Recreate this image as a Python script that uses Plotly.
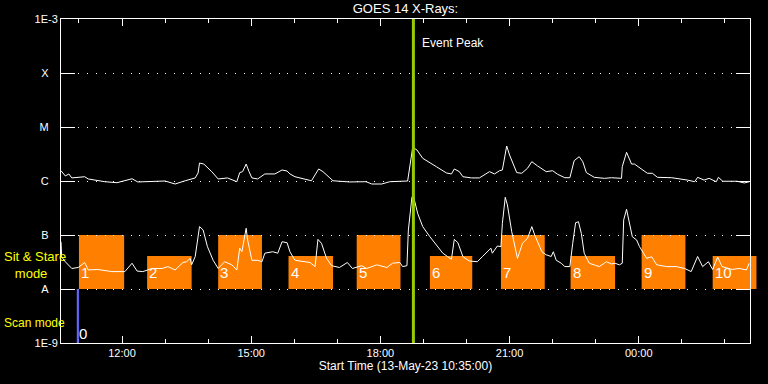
import plotly.graph_objects as go
from datetime import datetime
import math

START = "2023-05-13 10:35"
END = "2023-05-14 02:35"

# GOES long channel (upper curve)
long_times = ["10:35","10:41","10:46","10:50","11:08","11:13","11:36","11:53","12:14","12:22",
    "13:00","13:14","13:28","13:42","13:46","13:48","13:54","14:05","14:14","14:27",
    "14:40","14:44","14:48","14:53","14:57","15:01","15:09","15:19","15:33","15:43",
    "15:50","15:54","16:01","16:08","16:24","16:34","16:40","16:54","17:17","17:40",
    "17:48","18:02","18:13","18:38","18:42","18:45","18:51","18:59","19:18","19:32",
    "19:39","19:43","19:50","19:55","20:07","20:18","20:32","20:39","20:46","20:50",
    "20:56","21:00","21:10","21:17","21:25","21:31","21:39","21:51","22:00","22:07",
    "22:17","22:24","22:30","22:37","22:42","22:47","22:58","23:12","23:22","23:36",
    "23:37","23:43","23:50","23:54","00:12","00:19","00:26","00:46","01:08","01:18",
    "01:22","01:31","01:38","01:48","01:51","01:57","02:17","02:27","02:34"]
long_flux = [1.55e-6,1.24e-6,1.35e-6,1.14e-6,1.20e-6,1.09e-6,9.7e-7,9.3e-7,1.10e-6,9.6e-7,
    1.0e-6,8.8e-7,1.01e-6,1.14e-6,1.41e-6,2.15e-6,2.06e-6,1.49e-6,1.09e-6,1.14e-6,
    9.7e-7,1.43e-6,1.49e-6,2.06e-6,1.49e-6,1.14e-6,1.09e-6,1.35e-6,1.35e-6,1.60e-6,
    1.53e-6,1.35e-6,1.20e-6,1.14e-6,1.01e-6,1.67e-6,1.49e-6,1.01e-6,9.6e-7,9.7e-7,
    8.8e-7,8.8e-7,9.7e-7,1.0e-6,2.45e-6,4.21e-6,3.75e-6,2.63e-6,1.84e-6,1.41e-6,
    1.35e-6,1.67e-6,1.49e-6,1.20e-6,1.14e-6,1.14e-6,1.49e-6,1.35e-6,1.55e-6,1.60e-6,
    4.45e-6,3.03e-6,1.43e-6,1.39e-6,1.72e-6,2.28e-6,1.90e-6,1.49e-6,1.55e-6,1.33e-6,
    1.15e-6,1.15e-6,2.38e-6,2.82e-6,2.28e-6,1.43e-6,1.17e-6,1.12e-6,1.15e-6,1.12e-6,
    1.84e-6,3.40e-6,2.06e-6,2.06e-6,1.39e-6,1.39e-6,1.17e-6,1.15e-6,1.04e-6,9.7e-7,
    1.17e-6,1.04e-6,1.12e-6,9.7e-7,1.17e-6,9.9e-7,9.9e-7,9.2e-7,9.7e-7]

# GOES short channel (lower curve)
short_times = ["10:35","10:36","10:41","10:50","10:59","11:08","11:13","11:26","11:46","12:00",
    "12:04","12:14","12:21","12:29","12:42","12:56","13:04","13:14","13:25","13:30",
    "13:35","13:37","13:42","13:48","13:53","13:59","14:07","14:14","14:23","14:33",
    "14:40","14:44","14:47","14:53","14:55","15:01","15:09","15:15","15:19","15:30",
    "15:37","15:43","15:50","15:54","16:01","16:22","16:29","16:33","16:38","16:45",
    "16:52","17:03","17:14","17:21","17:34","17:41","17:55","18:09","18:17","18:27",
    "18:31","18:37","18:39","18:44","18:46","18:52","18:59","19:09","19:18","19:27",
    "19:39","19:41","19:43","19:48","19:55","20:04","20:15","20:22","20:34","20:36",
    "20:43","20:48","20:50","20:54","20:57","21:03","21:11","21:18","21:25","21:31",
    "21:35","21:45","21:51","21:58","22:01","22:05","22:12","22:17","22:24","22:28",
    "22:32","22:36","22:40","22:44","22:51","23:05","23:15","23:22","23:27","23:33",
    "23:37","23:39","23:43","23:51","23:57","00:01","00:11","00:18","00:25","00:39",
    "00:52","01:04","01:13","01:22","01:29","01:37","01:43","01:50","01:56","02:10",
    "02:20","02:30","02:34"]
short_flux = [7.5e-8,3.9e-8,3.2e-8,2.4e-8,2.5e-8,3.1e-8,2.25e-8,2.3e-8,2.1e-8,2.15e-8,
    2.1e-8,3.0e-8,2.15e-8,2.1e-8,2.4e-8,2.4e-8,2.6e-8,2.25e-8,3.1e-8,3.2e-8,
    3.7e-8,2.8e-8,4.0e-8,1.43e-7,1.24e-7,6.1e-8,3.4e-8,2.4e-8,3.2e-8,2.8e-8,
    2.25e-8,5.7e-8,4.9e-8,1.33e-7,8.1e-8,3.4e-8,3.4e-8,3.2e-8,4.6e-8,4.9e-8,
    4.6e-8,7.5e-8,7.2e-8,4.9e-8,3.4e-8,3.1e-8,2.6e-8,8.3e-8,7.0e-8,3.7e-8,
    2.7e-8,2.5e-8,3.1e-8,2.4e-8,2.7e-8,2.4e-8,2.8e-8,2.5e-8,3.0e-8,3.1e-8,
    2.6e-8,2.7e-8,1.24e-7,5.1e-7,5.3e-7,2.5e-7,1.43e-7,9.3e-8,6.5e-8,4.6e-8,
    3.55e-8,5.7e-8,8.3e-8,7.2e-8,3.96e-8,3.3e-8,3.2e-8,3.96e-8,5.7e-8,4.6e-8,
    6.25e-8,6.1e-8,1.65e-7,5.0e-7,3.6e-7,1.15e-7,3.7e-8,7.0e-8,8.7e-8,1.43e-7,
    1.0e-7,4.9e-8,4.3e-8,4.0e-8,4.9e-8,3.4e-8,3.0e-8,2.6e-8,2.6e-8,7.0e-8,
    1.69e-7,1.76e-7,1.07e-7,4.6e-8,3.0e-8,2.6e-8,3.2e-8,2.9e-8,3.0e-8,2.8e-8,
    3.0e-8,1.9e-7,3.0e-7,9.3e-8,8.1e-8,6.1e-8,3.7e-8,3.96e-8,2.8e-8,2.6e-8,
    2.6e-8,2.4e-8,2.1e-8,4.0e-8,2.6e-8,3.2e-8,2.3e-8,3.9e-8,2.6e-8,2.3e-8,
    2.4e-8,2.25e-8,3.0e-8]

# Sit & Stare mode intervals
box_starts = ["11:00","12:35","14:14","15:52","17:27","19:09","20:48","22:25","00:04","01:43"]
box_ends = ["12:03","13:37","15:15","16:54","18:28","20:08","21:49","23:27","01:05","02:44"]
box_labels = ["1","2","3","4","5","6","7","8","9","10"]
box_bottom = 1e-8
box_tops = [1e-7, 4.1e-8, 1e-7, 4.1e-8, 1e-7, 4.1e-8, 1e-7, 4.1e-8, 1e-7, 4.1e-8]
box_label_level = 2.0e-8

# Scan mode
scan_start = "10:57"
scan_end = "11:00"
scan_label = "0"

event_peak = "18:46"

ytick_vals = [1e-9, 1e-8, 1e-7, 1e-6, 1e-5, 1e-4, 1e-3]
ytick_text = ["1E-9", "A", "B", "C", "M", "X", "1E-3"]

FONT = "Liberation Sans"
PAD = "\u00a0\u00a0\u00a0"


def to_dt(hm):
    h, m = map(int, hm.split(":"))
    day = 13 if (h * 60 + m) >= 10 * 60 + 35 else 14
    return datetime(2023, 5, day, h, m)


t0 = datetime.strptime(START, "%Y-%m-%d %H:%M")
t1 = datetime.strptime(END, "%Y-%m-%d %H:%M")


def to_paper(hm):
    return (to_dt(hm) - t0).total_seconds() / (t1 - t0).total_seconds()


fig = go.Figure()

fig.add_trace(go.Scatter(x=[to_dt(t) for t in long_times], y=long_flux, mode="lines",
                         line=dict(color="white", width=1), showlegend=False))
fig.add_trace(go.Scatter(x=[to_dt(t) for t in short_times], y=short_flux, mode="lines",
                         line=dict(color="white", width=1), showlegend=False))

shapes = []
annotations = []
for s, e, lab, top in zip(box_starts, box_ends, box_labels, box_tops):
    shapes.append(dict(type="rect", xref="paper", yref="y", x0=to_paper(s), x1=to_paper(e),
                       y0=box_bottom, y1=top, fillcolor="#ff8000", line=dict(width=0),
                       layer="between"))
    annotations.append(dict(x=to_dt(s), y=math.log10(box_label_level), xref="x", yref="y",
                            text=lab, showarrow=False, xanchor="left", yanchor="middle",
                            xshift=0, font=dict(family=FONT, size=15, color="white")))

shapes.append(dict(type="rect", xref="x", yref="y", x0=to_dt(scan_start), x1=to_dt(scan_end),
                   y0=1e-9, y1=1e-8, fillcolor="#6464ff", line=dict(width=0), layer="above"))
annotations.append(dict(x=to_dt(scan_start), y=-8.82, xref="x", yref="y", text=scan_label,
                        showarrow=False, xanchor="left", yanchor="middle", xshift=0,
                        font=dict(family=FONT, size=15, color="white")))

shapes.append(dict(type="line", xref="x", yref="paper", x0=to_dt(event_peak), x1=to_dt(event_peak),
                   y0=0, y1=1, line=dict(color="#99cc00", width=3), layer="above"))
annotations.append(dict(x=to_dt(event_peak), y=0.926, xref="x", yref="paper", text="Event Peak",
                        showarrow=False, xanchor="left", yanchor="middle", xshift=7,
                        font=dict(family=FONT, size=12, color="white")))

annotations.append(dict(x=-0.086, y=0.241, xref="paper", yref="paper",
                        text="Sit & Stare<br>\u00a0\u00a0\u00a0mode", showarrow=False, xanchor="left",
                        yanchor="middle", align="left",
                        font=dict(family=FONT, size=13, color="#ffff00")))
annotations.append(dict(x=-0.086, y=0.062, xref="paper", yref="paper", text="Scan mode",
                        showarrow=False, xanchor="left", yanchor="middle", align="left",
                        font=dict(family=FONT, size=12, color="#ffff00")))

fig.update_layout(
    width=768, height=384,
    margin=dict(l=61, r=18, t=19, b=41, autoexpand=False),
    paper_bgcolor="black", plot_bgcolor="black",
    font=dict(family=FONT, size=11, color="white"),
    title=dict(text="GOES 14 X-Rays:", x=0.5, xref="paper", y=0.979, yref="container",
               yanchor="middle", font=dict(family=FONT, size=13, color="white")),
    shapes=shapes, annotations=annotations, showlegend=False,
)

fig.update_xaxes(
    type="date", range=[t0, t1], tickformat="%H:%M", dtick=3 * 3600000,
    tick0="2023-05-13 00:00", ticks="inside", ticklen=7, tickcolor="white", tickwidth=1,
    showline=True, linecolor="white", linewidth=1, mirror="ticks", showgrid=False,
    zeroline=False, automargin=False,
    minor=dict(dtick=3600000, tick0="2023-05-13 00:00", ticks="inside", ticklen=4,
               tickcolor="white", showgrid=False),
    title=dict(text="Start Time (13-May-23 10:35:00)", standoff=3,
               font=dict(family=FONT, size=12, color="white")),
    tickfont=dict(family=FONT, size=11, color="white"),
)

fig.update_yaxes(
    type="log", range=[-9, -3], tickvals=ytick_vals,
    ticktext=[t if len(t) > 1 else t + PAD for t in ytick_text],
    ticks="inside", ticklen=14, tickcolor="white", tickwidth=1,
    showline=True, linecolor="white", linewidth=1, mirror="ticks",
    showgrid=True, gridcolor="white", gridwidth=1, griddash="1px,7.7px",
    zeroline=False, automargin=False, tickfont=dict(family=FONT, size=11, color="white"),
)

fig.write_html("out.html", config={"displayModeBar": False},
               post_script="document.body.style.margin='0';document.body.style.background='black';")
